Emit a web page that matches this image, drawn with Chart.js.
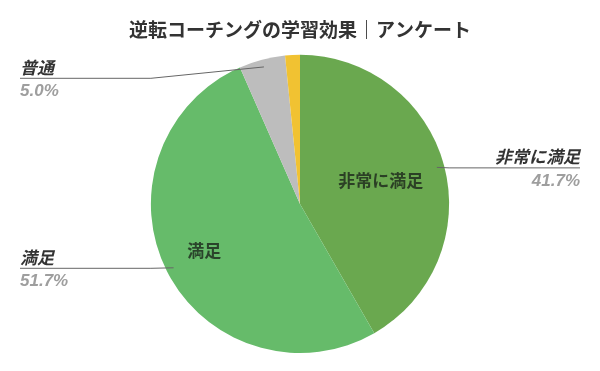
<!DOCTYPE html>
<html><head><meta charset="utf-8">
<script src="https://cdn.jsdelivr.net/npm/chart.js@4"></script>
<style>html,body{margin:0;padding:0;background:#fff;}#wrap{width:600px;height:371px;}</style>
</head><body><div id="wrap"><canvas id="c"></canvas></div>
<script>
const titleText = '逆転コーチングの学習効果｜アンケート';
const categories = ['非常に満足', '満足', '普通', '不満'];
const percents = [41.7, 51.7, 5.0, 1.6];
const showOutside = [true, true, true, false];
const showInside = [true, true, false, false];
const colors = ['#6aa84f', '#66bb6a', '#bdbdbd', '#f1c232'];
const insideRadius = [0.56, 0.72, 0, 0];

const FONT = '"Liberation Sans", Arial, "Noto Sans CJK JP", sans-serif';

const labelPlugin = {
  id: 'calloutLabels',
  afterDatasetsDraw(chart) {
    const ctx = chart.ctx;
    const meta = chart.getDatasetMeta(0);
    const area = chart.chartArea;
    meta.data.forEach((arc, i) => {
      const p = arc.getProps(['x','y','startAngle','endAngle','outerRadius'], true);
      const mid = (p.startAngle + p.endAngle) / 2;
      const r = p.outerRadius;
      if (showInside[i]) {
        const ix = p.x + Math.cos(mid) * r * insideRadius[i];
        const iy = p.y + Math.sin(mid) * r * insideRadius[i];
        ctx.save();
        ctx.font = 'bold 17px ' + FONT;
        ctx.fillStyle = 'rgba(25,35,25,0.78)';
        ctx.textAlign = 'center';
        ctx.textBaseline = 'middle';
        ctx.fillText(categories[i], ix, iy);
        ctx.restore();
      }
      if (showOutside[i]) {
        const ax = p.x + Math.cos(mid) * r * 0.95;
        const ay = p.y + Math.sin(mid) * r * 0.95;
        const left = ax < p.x;
        const ly = Math.max(ay, area.top + 23);
        const endX = left ? 20 : 580;
        const elbowX = left ? p.x - r : p.x + r;
        ctx.save();
        ctx.strokeStyle = '#666';
        ctx.lineWidth = 1;
        ctx.beginPath();
        ctx.moveTo(endX, ly + 0.5);
        if (left ? elbowX < ax : elbowX > ax) {
          ctx.lineTo(elbowX, ly + 0.5);
        }
        ctx.lineTo(ax, ay);
        ctx.stroke();
        ctx.textAlign = left ? 'left' : 'right';
        ctx.font = 'italic bold 17px ' + FONT;
        ctx.fillStyle = '#333';
        ctx.textBaseline = 'alphabetic';
        ctx.fillText(categories[i], endX, ly - 4);
        ctx.fillStyle = '#9e9e9e';
        ctx.textBaseline = 'top';
        ctx.fillText(percents[i].toFixed(1) + '%', endX, ly + 5);
        ctx.restore();
      }
    });
  }
};

new Chart(document.getElementById('c'), {
  type: 'pie',
  data: {
    labels: categories,
    datasets: [{ data: percents, backgroundColor: colors, borderWidth: 0 }]
  },
  options: {
    responsive: true,
    maintainAspectRatio: false,
    animation: false,
    layout: { padding: { top: 0, bottom: 18, left: 0, right: 0 } },
    plugins: {
      legend: { display: false },
      tooltip: { enabled: false },
      title: {
        display: true,
        text: titleText,
        color: '#333',
        font: { size: 19, weight: 'bold', family: FONT },
        padding: { top: 20, bottom: 12 }
      }
    }
  },
  plugins: [labelPlugin]
});
</script>
</body></html>
